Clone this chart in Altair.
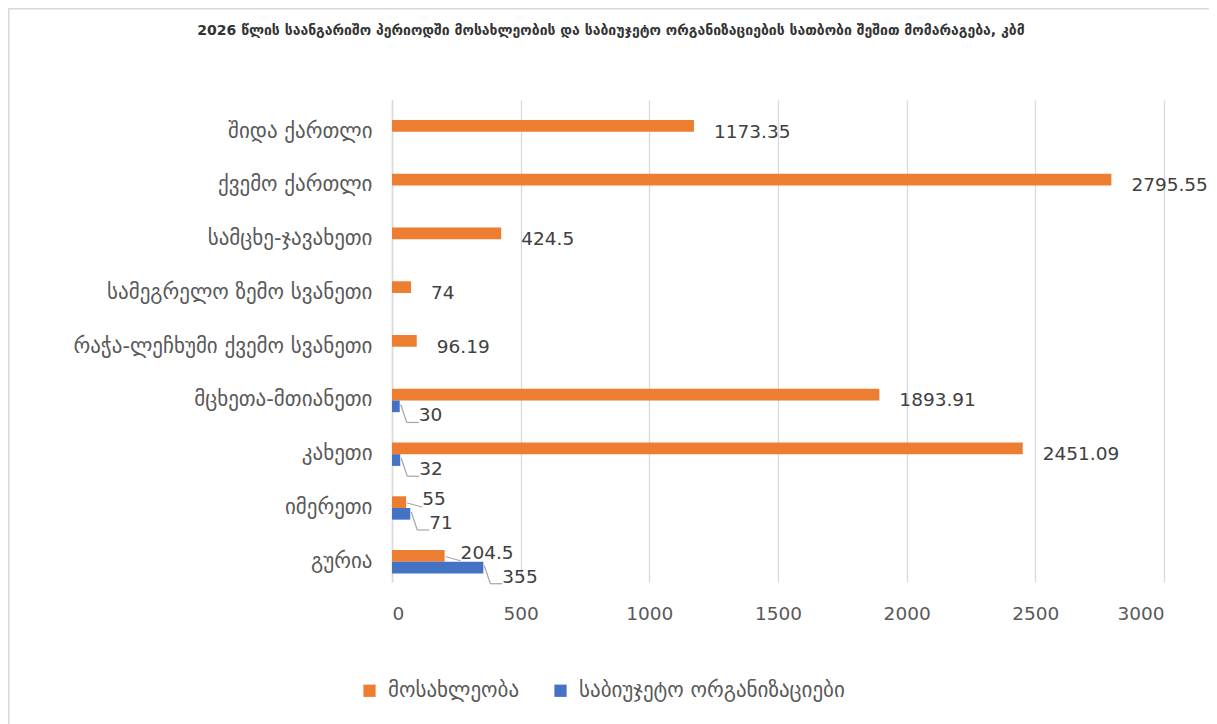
import altair as alt
import pandas as pd

regions = ["შიდა ქართლი", "ქვემო ქართლი", "სამცხე-ჯავახეთი", "სამეგრელო ზემო სვანეთი",
           "რაჭა-ლეჩხუმი ქვემო სვანეთი", "მცხეთა-მთიანეთი", "კახეთი", "იმერეთი", "გურია"]
population = [1173.35, 2795.55, 424.5, 74, 96.19, 1893.91, 2451.09, 55, 204.5]
budget_orgs = [None, None, None, None, None, 30, 32, 71, 355]
series_names = ["მოსახლეობა", "საბიუჯეტო ორგანიზაციები"]
series_colors = ["#ED7D31", "#4472C4"]
x_ticks = [0, 500, 1000, 1500, 2000, 2500, 3000]
title_text = "2026 წლის საანგარიშო პერიოდში მოსახლეობის და საბიუჯეტო ორგანიზაციების სათბობი შეშით მომარაგება, კბმ"

rows = []
for r, p, b in zip(regions, population, budget_orgs):
    rows.append({"region": r, "series": series_names[0], "value": p,
                 "other": b if b is not None else 0})
    if b is not None:
        rows.append({"region": r, "series": series_names[1], "value": b, "other": p})
df = pd.DataFrame(rows)

FONT = "DejaVu Sans"
LABEL_COLOR = "#404040"
AXIS_COLOR = "#595959"
NUM_SIZE = 18.5
GEO_SIZE = 21
W, H = 772, 482
PAD = {"left": 384, "top": 92, "right": 45, "bottom": 142}

y_enc = alt.Y("region:N", sort=regions, title=None,
              scale=alt.Scale(paddingInner=0.565, paddingOuter=0.266, align=0.7),
              axis=alt.Axis(labelFontSize=GEO_SIZE, labelColor=AXIS_COLOR, labelFont=FONT,
                            ticks=False, domainColor="#d9d9d9", domainWidth=1.5,
                            labelPadding=20, labelLimit=400))
x_enc = alt.X("value:Q", title=None,
              scale=alt.Scale(domain=[0, 3000], nice=False),
              axis=alt.Axis(values=x_ticks, format="d", labelFontSize=NUM_SIZE,
                            labelColor=AXIS_COLOR, labelFont=FONT, ticks=False,
                            domain=False, gridColor="#d9d9d9", gridWidth=1.3,
                            labelPadding=22))

base = alt.Chart(df)

bars = base.mark_bar().encode(
    y=y_enc,
    x=x_enc,
    yOffset=alt.YOffset("series:N", sort=series_names,
                        scale=alt.Scale(domain=series_names, paddingInner=0, paddingOuter=0)),
    color=alt.Color("series:N",
                    scale=alt.Scale(domain=series_names, range=series_colors),
                    legend=alt.Legend(orient="none", legendX=-33, legendY=580,
                                      direction="horizontal", title=None,
                                      symbolType="square", symbolSize=150,
                                      labelFontSize=GEO_SIZE, labelFont=FONT,
                                      labelColor=AXIS_COLOR, columnPadding=30,
                                      labelOffset=8, labelLimit=500,
                                      symbolStrokeWidth=0)),
)

orange = base.transform_filter(alt.datum.series == series_names[0])
blue = base.transform_filter(alt.datum.series == series_names[1])
ycat = alt.Y("region:N", sort=regions)

orange_lbl = orange.transform_filter(alt.datum.value >= alt.datum.other).mark_text(
    align="left", baseline="middle", dx=20, fontSize=NUM_SIZE, font=FONT, color=LABEL_COLOR
).encode(y=ycat, x="value:Q", text=alt.Text("value:Q"))

orange_lbl_shift = orange.transform_filter(alt.datum.value < alt.datum.other).mark_text(
    align="left", baseline="middle", dx=16, dy=-9, fontSize=NUM_SIZE, font=FONT, color=LABEL_COLOR
).encode(y=ycat, x="value:Q", text=alt.Text("value:Q"))

orange_lead = orange.transform_filter(alt.datum.value < alt.datum.other).mark_rule(
    color="#a6a6a6", strokeWidth=1.2, xOffset=1, x2Offset=16, yOffset=-5, y2Offset=-1
).encode(y=ycat, y2="region:N", x="value:Q", x2="value:Q")

blue_lbl = blue.mark_text(
    align="left", baseline="middle", dx=19, dy=15, fontSize=NUM_SIZE, font=FONT, color=LABEL_COLOR
).encode(y=ycat, x="value:Q", text=alt.Text("value:Q"))

blue_lead1 = blue.mark_rule(
    color="#a6a6a6", strokeWidth=1.2, xOffset=1, x2Offset=7, yOffset=4, y2Offset=22
).encode(y=ycat, y2="region:N", x="value:Q", x2="value:Q")

blue_lead2 = blue.mark_rule(
    color="#a6a6a6", strokeWidth=1.2, xOffset=7, x2Offset=19, yOffset=22, y2Offset=22
).encode(y=ycat, y2="region:N", x="value:Q", x2="value:Q")

# chart-area frame and title (decoration, like the spreadsheet's chart area)
deco_src = alt.Chart(pd.DataFrame({"k": [0]}))
frame_left = deco_src.mark_rule(color="#d9d9d9", strokeWidth=1.5).encode(
    x=alt.value(-PAD["left"] + 0.75), y=alt.value(-PAD["top"]),
    y2=alt.value(H + PAD["bottom"] + 10))
frame_top = deco_src.mark_rule(color="#d9d9d9", strokeWidth=1.5).encode(
    x=alt.value(-PAD["left"]), x2=alt.value(W + PAD["right"] + 10),
    y=alt.value(-PAD["top"] + 0.75))
title_mark = deco_src.mark_text(
    align="center", baseline="middle", fontSize=14, font=FONT, fontWeight="bold",
    color="#333333"
).encode(x=alt.value(W / 2 - 167), y=alt.value(-69), text=alt.value(title_text))

chart = alt.layer(
    frame_left, frame_top, title_mark,
    bars, orange_lead, blue_lead1, blue_lead2, orange_lbl, orange_lbl_shift, blue_lbl
).properties(
    width=W, height=H,
    autosize=alt.AutoSizeParams(type="none"),
    padding=PAD,
).configure(background="white", view=alt.ViewConfig(stroke=None))

chart.save("out.html", embed_options={"renderer": "svg", "actions": False})
